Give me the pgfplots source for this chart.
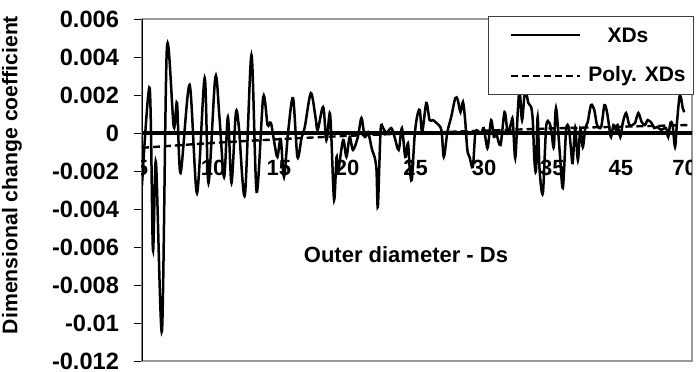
\documentclass[border=0pt]{standalone}
\usepackage{pgfplots}
\pgfplotsset{compat=1.18}
\usepackage{fontspec}
\setmainfont{Liberation Sans}
\begin{document}
\begin{tikzpicture}[font=\fontsize{11}{13}\selectfont\bfseries]
\path[use as bounding box] (-71pt,-5pt) rectangle (278pt,180.5pt);
\begin{axis}[
  at={(0,0)}, anchor=south west,
  scale only axis, width=275pt, height=171pt,
  xmin=0, xmax=201, ymin=-0.012, ymax=0.006,
  scaled y ticks=false,
  axis line style={draw=black!40, line width=1pt},
  xtick=\empty,
  ytick={-0.012,-0.01,-0.008,-0.006,-0.004,-0.002,0,0.002,0.004,0.006},
  yticklabels={-0.012,-0.01,-0.008,-0.006,-0.004,-0.002,0,0.002,0.004,0.006},
  ytick pos=left, tick align=outside, major tick length=4pt,
  ytick style={black, line width=0.5pt},
  yticklabel style={font=\fontsize{11.8}{14}\selectfont\bfseries, xshift=-4pt},
]
\addplot[black, line width=1.7pt, forget plot] coordinates {(0,0) (201,0)};
\addplot[black, line width=1.25pt, smooth] coordinates {
(0,-0.00274) (2.8,0.00237) (4.0,-0.00616) (5.1,-0.00153) (7.3,-0.01042)
(9.1,0.00447) (11.6,0.00032) (12.8,0.00158) (14.1,-0.0021) (17.4,0.00253)
(20.1,-0.00316) (22.9,0.00289) (24.3,-0.00263) (26.8,0.00295) (28.3,0.00084)
(30.0,-0.00232) (31.4,0.00084) (32.7,-0.00263) (34.3,0.00105) (35.4,0.00032)
(37.6,-0.00326) (40.0,0.0041) (41.9,-0.0031) (44.3,0.00189) (45.9,0.00042)
(47.1,0.00053) (48.5,-0.00063) (49.5,-0.00126) (50.7,-0.00032) (51.9,-0.00232)
(53.4,0.00005) (55.2,0.00184) (56.8,-0.00126) (58.3,-0.00026) (59.5,0.00032)
(61.7,0.0021) (63.4,0.00084) (64.2,0.00016) (66.2,0.00137) (67.4,-0.00037)
(68.6,0.00105) (69.2,-0.00021) (70.2,-0.00353) (71.1,-0.00126) (71.6,-0.0021)
(73.5,-0.00037) (74.7,-0.00126) (75.9,-0.00021) (77.1,-0.00089) (78.9,-0.00021)
(80.2,0.00079) (81.4,-0.00021) (82.6,0.00005) (84.1,-0.00089) (85.0,-0.00126)
(85.7,-0.00195) (86.2,-0.00389) (87.2,0.00016) (88.1,0.00026) (89.3,0)
(91.1,0.00026) (92.3,-0.00021) (93.8,-0.00089) (95.0,0.00026) (96.2,-0.00126)
(97.2,-0.00053) (97.8,-0.00179) (98.6,-0.00247) (99.6,-0.00021) (100.5,0.00084)
(101.5,0.00121) (102.4,0.00005) (103.9,0.00158) (105.1,0.00068) (106.3,0.00068)
(107.6,0.00053) (109.4,0.00016) (110.3,-0.00126) (111.6,0.00005) (113.0,0.00084)
(114.5,0.00184) (115.4,0.00174) (116.4,0.0011) (117.3,0.00163) (118.1,0.00068)
(118.9,-0.00089) (119.7,-0.00126) (120.9,-0.00179) (121.8,0) (122.7,0.0001)
(124.0,0) (124.9,0.00026) (125.8,-0.00053) (126.4,-0.00074) (127.6,0.00068)
(128.6,-0.00021) (129.4,0) (131.0,-0.00063) (132.5,0.0011) (133.7,0)
(134.9,0.00053) (135.5,0.00068) (136.4,-0.00132) (137.3,0.00105) (138.0,0.00226)
(138.9,0.00068) (140.0,0.00226) (141.2,0.00158) (142.2,0.00137) (142.8,0.00068)
(143.4,-0.00142) (144.0,-0.00195) (144.6,0.00084) (145.3,-0.00195) (146.5,-0.00316)
(147.7,0.00032) (148.9,0.00053) (149.7,0) (150.5,-0.00074) (151.3,0.00132)
(152.6,-0.00089) (153.8,-0.00289) (155.0,0.00016) (156.0,0.00026) (156.8,-0.00089)
(157.4,-0.00158) (158.3,0.00026) (159.3,-0.00142) (160.2,0.00026) (161.1,-0.00074)
(162.0,0.00026) (162.9,0.00058) (164.1,0.00147) (165.3,0.00121) (166.3,0.00042)
(167.8,0.00032) (169.0,0.00147) (170.0,0.00105) (170.8,0.00026) (171.4,-0.00021)
(172.3,0.00042) (173.2,0.00016) (173.8,0.00042) (174.8,-0.00021) (175.7,0.00053)
(176.9,0.00105) (178.1,0.00042) (179.3,0.00042) (180.2,0.00053) (181.4,0.00105)
(182.6,0.00058) (183.8,0.00042) (184.8,0.00068) (186.2,0.00053) (187.2,0.00026)
(188.4,0.00032) (189.7,0.00016) (191.5,0.00026) (192.3,-0.00021) (193.1,0.00053)
(193.9,0.00042) (194.8,-0.00074) (195.5,0.00053) (196.4,0.00189) (197.0,0.00184)
(197.6,0.00132) (198.2,0.0011)
};
\addplot[black, line width=1.2pt, dash pattern=on 3.5pt off 2pt, smooth] coordinates {
(0,-0.00078) (13.9,-0.00064) (28.5,-0.0005) (43.1,-0.00038) (57.7,-0.00027)
(72.3,-0.00017) (86.9,-0.00008) (101.5,0) (116.1,0.00008) (130.7,0.00015)
(145.3,0.00022) (159.9,0.00028) (174.5,0.00033) (189.1,0.00038) (200,0.00042)
};
\draw[black, line width=0.6pt] (rel axis cs:0,0) -- (rel axis cs:0,1);
\node at (axis cs:0,-0.00184) {5};
\node at (axis cs:26,-0.00184) {10};
\node at (axis cs:50,-0.00184) {15};
\node at (axis cs:75,-0.00184) {20};
\node at (axis cs:100,-0.00184) {25};
\node at (axis cs:125,-0.00184) {30};
\node at (axis cs:150,-0.00184) {35};
\node at (axis cs:175,-0.00184) {45};
\node at (axis cs:198.3,-0.00184) {70};
\end{axis}
\draw[black!75, line width=0.5pt, fill=white] (173.5pt,133.5pt) rectangle (276pt,172.5pt);
\draw[black, line width=1.25pt] (184.5pt,163pt) -- (219pt,163pt);
\draw[black, line width=1.2pt, dash pattern=on 3.5pt off 2pt] (184.5pt,142.5pt) -- (219pt,142.5pt);
\node[font=\fontsize{10.5}{12}\selectfont\bfseries] at (243pt,163pt) {XDs};
\node[anchor=west, inner sep=0pt, font=\fontsize{10.5}{12}\selectfont\bfseries] at (223pt,142.5pt) {Poly. XDs};
\node at (132pt,53pt) {Outer diameter - Ds};
\node[rotate=90, font=\fontsize{10.6}{12}\selectfont\bfseries] at (-65pt,93pt) {Dimensional change coefficient};
\end{tikzpicture}
\end{document}
